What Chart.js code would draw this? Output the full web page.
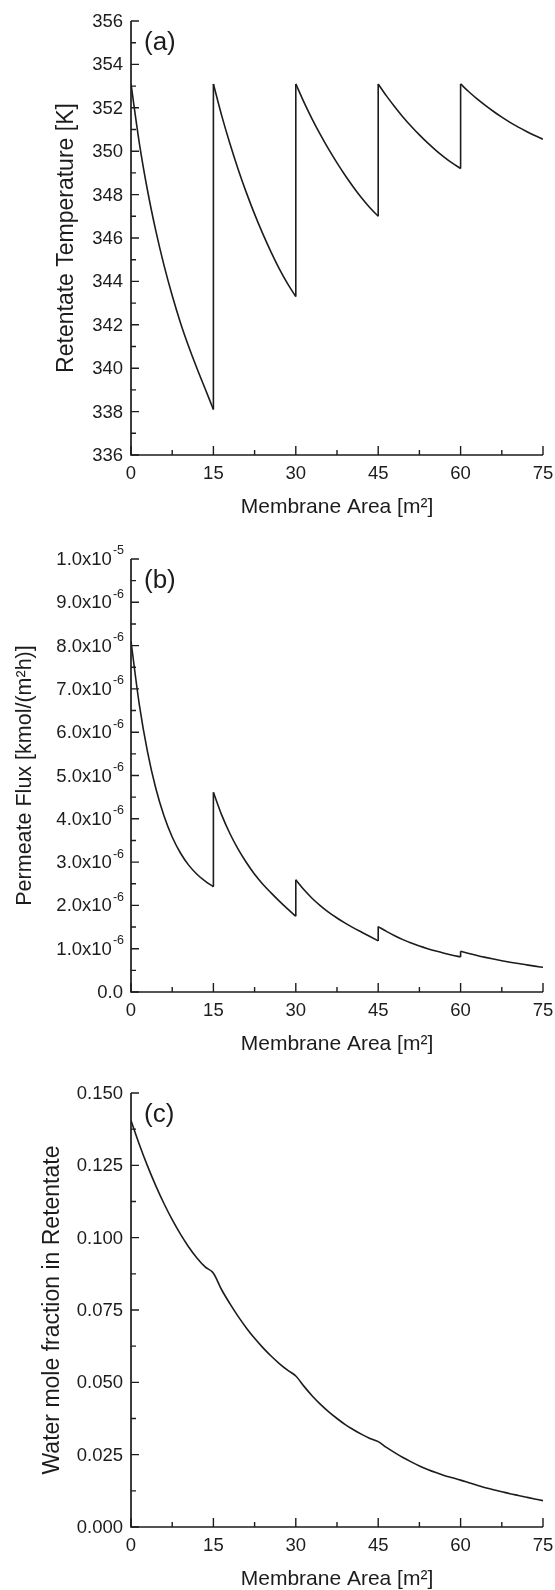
<!DOCTYPE html>
<html>
<head>
<meta charset="utf-8">
<title>Membrane stages</title>
<script src="https://cdn.jsdelivr.net/npm/chart.js"></script>
<style>
  body { margin: 0; background: #fff; }
  canvas { position: absolute; left: 0; }
</style>
</head>
<body>
<canvas id="tempChart" width="555" height="535" style="top:0"></canvas>
<canvas id="fluxChart" width="555" height="535" style="top:535px"></canvas>
<canvas id="fractionChart" width="555" height="520" style="top:1070px"></canvas>
<script>
// Membrane area along the train, five 15 m2 modules (boundary points repeated where the value jumps)
const areaStaged = [
  0, 1.5, 3, 4.5, 6, 7.5, 9, 10.5, 12, 13.5, 15,
  15, 16.5, 18, 19.5, 21, 22.5, 24, 25.5, 27, 28.5, 30,
  30, 31.5, 33, 34.5, 36, 37.5, 39, 40.5, 42, 43.5, 45,
  45, 46.5, 48, 49.5, 51, 52.5, 54, 55.5, 57, 58.5, 60,
  60, 61.5, 63, 64.5, 66, 67.5, 69, 70.5, 72, 73.5, 75
];
const areaContinuous = [
  0, 1.5, 3, 4.5, 6, 7.5, 9, 10.5, 12, 13.5, 15,
  16.5, 18, 19.5, 21, 22.5, 24, 25.5, 27, 28.5, 30,
  31.5, 33, 34.5, 36, 37.5, 39, 40.5, 42, 43.5, 45,
  46.5, 48, 49.5, 51, 52.5, 54, 55.5, 57, 58.5, 60,
  61.5, 63, 64.5, 66, 67.5, 69, 70.5, 72, 73.5, 75
];

// Retentate temperature [K]
const retentateTemp = [
  353.1, 350.4, 348.2, 346.35, 344.75, 343.35, 342.1, 341.0, 340.0, 339.05, 338.1,
  353.1, 351.65, 350.35, 349.17, 348.09, 347.1, 346.19, 345.35, 344.58, 343.9, 343.3,
  353.1, 352.25, 351.47, 350.75, 350.08, 349.46, 348.88, 348.34, 347.84, 347.39, 347.0,
  353.1, 352.55, 352.05, 351.58, 351.15, 350.75, 350.38, 350.04, 349.73, 349.45, 349.2,
  353.1, 352.74, 352.41, 352.11, 351.83, 351.57, 351.33, 351.11, 350.91, 350.72, 350.55
];

// Permeate flux [kmol/(m2 h)]
const permeateFlux = [
  8.1e-6, 6.65e-6, 5.55e-6, 4.71e-6, 4.07e-6, 3.58e-6, 3.21e-6, 2.93e-6, 2.72e-6, 2.56e-6, 2.43e-6,
  4.61e-6, 4.09e-6, 3.66e-6, 3.3e-6, 2.99e-6, 2.72e-6, 2.49e-6, 2.29e-6, 2.1e-6, 1.92e-6, 1.75e-6,
  2.59e-6, 2.36e-6, 2.16e-6, 1.99e-6, 1.84e-6, 1.71e-6, 1.59e-6, 1.48e-6, 1.38e-6, 1.28e-6, 1.18e-6,
  1.51e-6, 1.4e-6, 1.3e-6, 1.21e-6, 1.13e-6, 1.06e-6, 1.0e-6, 0.945e-6, 0.895e-6, 0.85e-6, 0.81e-6,
  0.94e-6, 0.89e-6, 0.843e-6, 0.8e-6, 0.76e-6, 0.723e-6, 0.689e-6, 0.657e-6, 0.627e-6, 0.598e-6, 0.57e-6
];

// Water mole fraction in the retentate
const waterFraction = [
  0.1405, 0.1323, 0.1248, 0.1180, 0.1118, 0.1062, 0.1012, 0.0968, 0.0930, 0.0899, 0.0877,
  0.0820, 0.0772, 0.0728, 0.0688, 0.0652, 0.0620, 0.0591, 0.0565, 0.0542, 0.0522,
  0.0486, 0.0453, 0.0424, 0.0398, 0.0375, 0.0354, 0.0336, 0.0320, 0.0306, 0.0295,
  0.0275, 0.0257, 0.0240, 0.0225, 0.0211, 0.0199, 0.0188, 0.0178, 0.0170, 0.0162,
  0.0153, 0.0144, 0.0136, 0.0129, 0.0122, 0.0115, 0.0109, 0.0103, 0.0097, 0.0091
];

// Tick values
const areaTicks = [0, 15, 30, 45, 60, 75];
const tempTicks = [336, 338, 340, 342, 344, 346, 348, 350, 352, 354, 356];
const fluxTicks = [0, 1e-6, 2e-6, 3e-6, 4e-6, 5e-6, 6e-6, 7e-6, 8e-6, 9e-6, 1e-5];
const fractionTicks = [0, 0.025, 0.05, 0.075, 0.1, 0.125, 0.15];

const FONT = '"Liberation Sans", Arial, Helvetica, sans-serif';
const INK = '#1c1c1c';

// one smooth piece per module, plus a straight vertical piece at every jump
function buildSegments(xs, ys) {
  const curves = [];
  const jumps = [];
  let cur = [];
  xs.forEach((x, i) => {
    if (cur.length && x === cur[cur.length - 1].x) {
      jumps.push([cur[cur.length - 1], { x: x, y: ys[i] }]);
      curves.push(cur);
      cur = [];
    }
    cur.push({ x: x, y: ys[i] });
  });
  curves.push(cur);
  return { curves, jumps };
}

function midpoints(ticks) {
  const out = [];
  for (let i = 0; i < ticks.length - 1; i++) out.push((ticks[i] + ticks[i + 1]) / 2);
  return out;
}

// left/bottom axes with inward ticks, labels and titles
const axisFrame = {
  id: 'axisFrame',
  afterDraw(chart, args, o) {
    const { ctx, chartArea: a, scales: { x, y } } = chart;
    ctx.save();
    ctx.strokeStyle = INK;
    ctx.fillStyle = INK;
    ctx.lineWidth = 1.7;

    ctx.beginPath();
    ctx.moveTo(a.left, a.top);
    ctx.lineTo(a.left, a.bottom);
    ctx.lineTo(a.right, a.bottom);
    ctx.stroke();

    ctx.lineWidth = 1.4;
    ctx.beginPath();
    areaTicks.forEach(v => {
      const px = x.getPixelForValue(v);
      ctx.moveTo(px, a.bottom); ctx.lineTo(px, a.bottom - 9);
    });
    midpoints(areaTicks).forEach(v => {
      const px = x.getPixelForValue(v);
      ctx.moveTo(px, a.bottom); ctx.lineTo(px, a.bottom - 5);
    });
    o.yTicks.forEach(v => {
      const py = y.getPixelForValue(v);
      ctx.moveTo(a.left, py); ctx.lineTo(a.left + 8, py);
    });
    midpoints(o.yTicks).forEach(v => {
      const py = y.getPixelForValue(v);
      ctx.moveTo(a.left, py); ctx.lineTo(a.left + 5, py);
    });
    ctx.stroke();

    // x tick labels and title
    ctx.font = '18.5px ' + FONT;
    ctx.textAlign = 'center';
    ctx.textBaseline = 'middle';
    areaTicks.forEach(v => ctx.fillText(String(v), x.getPixelForValue(v), a.bottom + 19));
    ctx.font = '21px ' + FONT;
    ctx.fillText('Membrane Area [m²]', (a.left + a.right) / 2, a.bottom + 52);

    // y tick labels
    o.yTicks.forEach(v => {
      const py = y.getPixelForValue(v);
      const [base, exp] = o.format(v);
      ctx.textAlign = 'right';
      if (exp) {
        ctx.font = '12.5px ' + FONT;
        ctx.fillText(exp, a.left - 7, py - 8);
        const w = ctx.measureText(exp).width;
        ctx.font = '18.5px ' + FONT;
        ctx.fillText(base, a.left - 8 - w, py + 1);
      } else {
        ctx.font = '18.5px ' + FONT;
        ctx.fillText(base, a.left - 8, py + 1);
      }
    });

    // y title
    ctx.save();
    ctx.translate(o.titleX, (a.top + a.bottom) / 2);
    ctx.rotate(-Math.PI / 2);
    ctx.textAlign = 'center';
    ctx.font = o.titleSize + 'px ' + FONT;
    ctx.fillText(o.title, 0, 0);
    ctx.restore();

    // panel letter
    ctx.textAlign = 'left';
    ctx.font = '26px ' + FONT;
    ctx.fillText(o.tag, a.left + 13, a.top + 22);
    ctx.restore();
  }
};

function makePanel(id, xs, ys, yMin, yMax, pad, opts) {
  const { curves, jumps } = buildSegments(xs, ys);
  const line = {
    borderColor: INK,
    borderWidth: 1.6,
    pointRadius: 0,
    fill: false
  };
  const datasets = curves.map(seg => Object.assign({ data: seg, cubicInterpolationMode: 'monotone' }, line))
    .concat(jumps.map(seg => Object.assign({ data: seg, tension: 0 }, line)));
  return new Chart(document.getElementById(id), {
    type: 'line',
    data: { datasets: datasets },
    options: {
      responsive: false,
      animation: false,
      parsing: false,
      layout: { padding: { left: 131, right: 12, top: pad[0], bottom: pad[1] } },
      plugins: { legend: { display: false }, tooltip: { enabled: false }, axisFrame: opts },
      scales: {
        x: { type: 'linear', min: 0, max: 75, display: false },
        y: { type: 'linear', min: yMin, max: yMax, display: false }
      }
    },
    plugins: [axisFrame]
  });
}

function sciLabel(v) {
  if (v === 0) return ['0.0', null];
  const e = Math.floor(Math.log10(v) + 1e-9);
  return [(v / Math.pow(10, e)).toFixed(1) + 'x10', String(e)];
}

makePanel('tempChart', areaStaged, retentateTemp, 336, 356, [21, 80], {
  yTicks: tempTicks,
  format: v => [String(v), null],
  title: 'Retentate Temperature [K]',
  titleSize: 23,
  titleX: 67,
  tag: '(a)'
});

makePanel('fluxChart', areaStaged, permeateFlux, 0, 1e-5, [24, 78], {
  yTicks: fluxTicks,
  format: sciLabel,
  title: 'Permeate Flux [kmol/(m²h)]',
  titleSize: 21.5,
  titleX: 25,
  tag: '(b)'
});

makePanel('fractionChart', areaContinuous, waterFraction, 0, 0.15, [23, 63], {
  yTicks: fractionTicks,
  format: v => [v.toFixed(3), null],
  title: 'Water mole fraction in Retentate',
  titleSize: 23,
  titleX: 53,
  tag: '(c)'
});
</script>
</body>
</html>
